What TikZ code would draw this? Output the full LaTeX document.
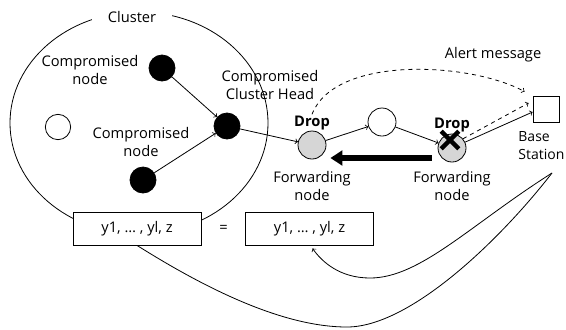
\documentclass[tikz,border=0pt]{standalone}
\usepackage{fontspec}
\setmainfont{Open Sans}
\usetikzlibrary{positioning,arrows.meta,shapes.misc}
\tikzstyle{blk}=[circle, draw, fill=black, minimum size=19.5pt, inner sep=0pt]
\tikzstyle{wht}=[circle, draw, fill=white, minimum size=20pt, inner sep=0pt]
\tikzstyle{fwd}=[circle, draw, fill=black!16, minimum size=21pt, inner sep=0pt]
\tikzstyle{station}=[draw, fill=white, minimum size=19.5pt, inner sep=0pt]
\tikzstyle{lbl}=[align=center, inner sep=1pt, font=\fontsize{11}{13.5}\selectfont]
\tikzstyle{drop}=[inner sep=1pt, font=\fontsize{11}{13.5}\selectfont\bfseries]
\tikzstyle{seq}=[draw, fill=white, minimum width=96pt, minimum height=24.75pt, font=\fontsize{11}{13.5}\selectfont]

\begin{document}
\begin{tikzpicture}[x=0.75pt,y=-0.75pt,>=to,line width=0.6pt]
\useasboundingbox (0,0) rectangle (566,329);
% cluster
\draw (139,123) ellipse [x radius=129, y radius=111];
\node[lbl, fill=white, inner xsep=12pt] (clu) at (132,17) {Cluster};

\node[blk] (cn1) at (162,68) {};
\node[blk] (ch) at (227,126) {};
\node[blk] (cn2) at (143,180) {};
\node[wht, minimum size=19pt] (n0) at (58,127) {};
\node[lbl] (cn1l) at (90,70) {Compromised\\node};
\node[lbl] (cn2l) at (141,142) {Compromised\\node};
\node[lbl] (chl) at (270,85) {Compromised\\Cluster Head};

% forwarding path
\node[fwd] (fwd1) at (312,145) {};
\node[wht, minimum size=21pt] (mid) at (382,122) {};
\node[fwd] (fwd2) at (452,148) {};
\node[station] (base) at (546,109) {};
\node[drop, above of=fwd1, node distance=16.5pt] (drop1) {Drop};
\node[drop, above of=fwd2, node distance=17pt] (drop2) {Drop};
\node[cross out, draw, line width=3.2pt, minimum size=10pt, inner sep=0pt] (xmark) at (450,140) {};
\node[lbl, below of=fwd1, node distance=30.75pt] (fwd1l) {Forwarding\\node};
\node[lbl, below of=fwd2, node distance=28.5pt] (fwd2l) {Forwarding\\node};
\node[lbl] (alert) at (493,55) {Alert message};
\node[lbl, align=left, anchor=west, inner sep=0pt, font=\fontsize{10.5}{13.5}\selectfont] (basel) at (518,146) {Base\\Station};

% report boxes
\node[seq] (box1) at (137,228.5) {y1, \dots\ , yl, z};
\node[seq, right of=box1, node distance=129.4pt] (box2) {y1, \dots\ , yl, z};
\node[lbl, right of=box1, node distance=65pt] (eq) {=};
\coordinate (apex) at (552,173);

\draw[->] (cn1) -- (ch);
\draw[->] (cn2) -- (ch);
\draw[->] (ch) -- (fwd1);
\draw[->] (fwd1) -- (mid);
\draw[->] (mid) -- (fwd2);
\draw[->] (fwd2) -- ([shift={(0,3)}]base.west);
\draw[->, dashed] (fwd2.40) -- ([shift={(-4,-6)}]base.west);
\draw[->, dashed] (drop1.north) .. controls (335,55) and (470,62) .. ([shift={(-8,-4)}]base.north west);
\draw[line width=5pt, -{Triangle[width=11pt,length=9pt]}] ([shift={(-6,10)}]fwd2.west) -- ([shift={(4,13)}]fwd1.east);

\draw (box1.south) .. controls (200,285) and (280,327) .. (347,327) .. controls (410,327) and (500,240) .. (apex);
\draw[->] (apex) .. controls (470,225) and (420,278) .. (370,278) .. controls (340,278) and (322,262) .. ([shift={(3,3)}]box2.south);
\end{tikzpicture}
\end{document}
